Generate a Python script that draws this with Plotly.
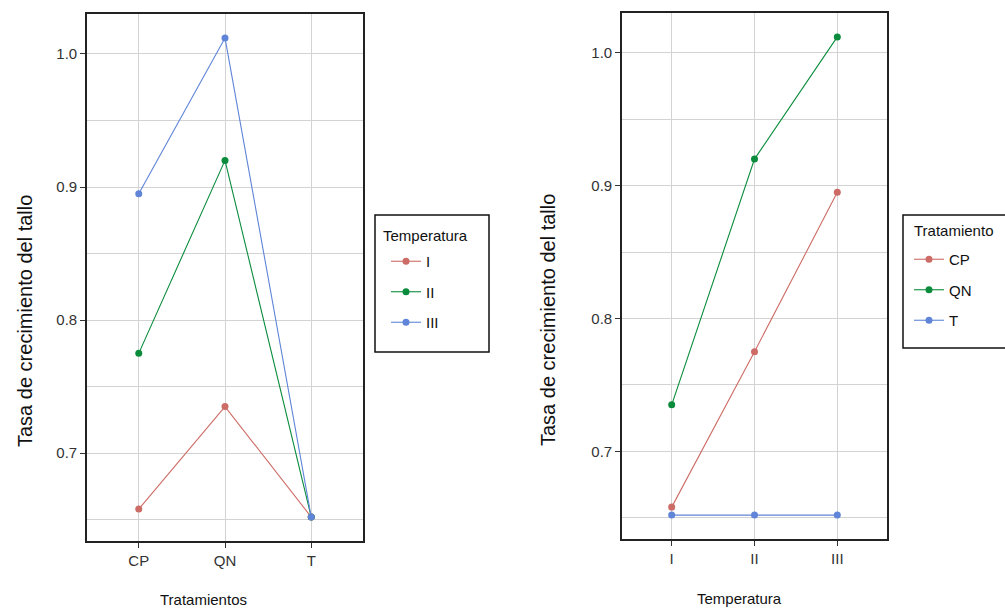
import plotly.graph_objects as go

# ---- data ----
treatments = ["CP", "QN", "T"]
temperatures = ["I", "II", "III"]
# growth rate by temperature level, across treatments CP, QN, T
rate_temp_I = [0.658, 0.735, 0.652]
rate_temp_II = [0.775, 0.920, 0.652]
rate_temp_III = [0.895, 1.012, 0.652]
y_ticks = [0.7, 0.8, 0.9, 1.0]
y_tick_labels = ["0.7", "0.8", "0.9", "1.0"]

rates_by_temp = [rate_temp_I, rate_temp_II, rate_temp_III]
colors = ["#cd6c66", "#0b8c3c", "#6085d8"]

# the page body margin is removed by post_script, so the figure sits at (0, 0)
OFF = 0
W, H = 1005 - OFF, 609 - OFF
FONT = "Liberation Sans, Arial, sans-serif"


def fx(X):
    return (X - OFF) / W


def fy(Y):
    return 1 - (Y - OFF) / H


fig = go.Figure()

# left panel: x = treatment, colour = temperature
for i, t in enumerate(temperatures):
    fig.add_trace(go.Scatter(
        x=treatments, y=rates_by_temp[i], mode="lines+markers", name=t,
        line=dict(color=colors[i], width=1.1), marker=dict(color=colors[i], size=7),
        xaxis="x", yaxis="y", legend="legend", legendgroup="a" + t,
    ))

# right panel: x = temperature, colour = treatment
for j, tr in enumerate(treatments):
    fig.add_trace(go.Scatter(
        x=temperatures, y=[rates_by_temp[i][j] for i in range(len(temperatures))],
        mode="lines+markers", name=tr,
        line=dict(color=colors[j], width=1.1), marker=dict(color=colors[j], size=7),
        xaxis="x2", yaxis="y2", legend="legend2", legendgroup="b" + tr,
    ))

yrange = [0.634, 1.030]
grid = "#d3d3d3"
tick_font = dict(family=FONT, size=15, color="#333333")
common_y = dict(
    range=yrange, tickvals=y_ticks, ticktext=y_tick_labels,
    showgrid=True, gridcolor=grid, gridwidth=1.2,
    minor=dict(tickvals=[0.65, 0.75, 0.85, 0.95], showgrid=True, gridcolor=grid, gridwidth=1.2),
    showline=True, mirror=True, linecolor="#222222", linewidth=1.6,
    ticks="outside", ticklen=5, tickcolor="#333333", tickwidth=1.2,
    tickfont=tick_font, zeroline=False,
)
common_x = dict(
    type="category", range=[-0.6, 2.6],
    showgrid=True, gridcolor=grid, gridwidth=1.2,
    showline=True, mirror=True, linecolor="#222222", linewidth=1.6,
    ticks="outside", ticklen=5, tickcolor="#333333", tickwidth=1.2,
    tickfont=tick_font, zeroline=False,
)

legend_common = dict(
    xanchor="left", yanchor="top", borderwidth=0, bgcolor="rgba(0,0,0,0)",
    font=dict(family=FONT, size=15, color="#111111"),
    tracegroupgap=8, itemwidth=30,
)

fig.update_layout(
    width=W, height=H,
    margin=dict(l=0, r=0, t=0, b=0),
    paper_bgcolor="white", plot_bgcolor="white",
    font=dict(family=FONT, color="#111111"),
    xaxis=dict(domain=[fx(87), fx(363)], anchor="y", **common_x),
    yaxis=dict(domain=[fy(541), fy(14)], anchor="x", **common_y),
    xaxis2=dict(domain=[fx(622), fx(887)], anchor="y2", **common_x),
    yaxis2=dict(domain=[fy(539), fy(13)], anchor="x2", **common_y),
    legend=dict(x=fx(386), y=fy(245), **legend_common),
    legend2=dict(x=fx(909), y=fy(243), **legend_common),
    showlegend=True,
)

# legend frames (right one runs off the page edge, open on the right)
fig.add_shape(type="rect", xref="paper", yref="paper",
              x0=fx(375), x1=fx(489), y0=fy(352), y1=fy(215),
              line=dict(color="#111111", width=1.5), fillcolor="rgba(0,0,0,0)")
rx0, rx1, ry0, ry1 = fx(903), fx(1040), fy(348), fy(215)
fig.add_shape(type="path", xref="paper", yref="paper",
              path=f"M {rx1} {ry1} L {rx0} {ry1} L {rx0} {ry0} L {rx1} {ry0}",
              line=dict(color="#111111", width=1.5))

title_font = dict(family=FONT, size=20, color="#111111")
xt_font = dict(family=FONT, size=15, color="#111111")
annotations = [
    dict(text="Tasa de crecimiento del tallo", x=fx(25), y=fy(321), textangle=-90,
         font=title_font, xanchor="center", yanchor="middle"),
    dict(text="Tasa de crecimiento del tallo", x=fx(548), y=fy(320), textangle=-90,
         font=title_font, xanchor="center", yanchor="middle"),
    dict(text="Tratamientos", x=fx(203), y=fy(599), font=xt_font,
         xanchor="center", yanchor="middle"),
    dict(text="Temperatura", x=fx(739), y=fy(598), font=xt_font,
         xanchor="center", yanchor="middle"),
    # legend titles
    dict(text="Temperatura", x=fx(381), y=fy(236), font=xt_font,
         xanchor="left", yanchor="middle"),
    dict(text="Tratamiento", x=fx(912), y=fy(230), font=xt_font,
         xanchor="left", yanchor="middle"),
]
for a in annotations:
    a.update(xref="paper", yref="paper", showarrow=False)
fig.update_layout(annotations=annotations)

fig.write_html(
    "out.html",
    config={"displayModeBar": False},
    post_script="document.body.style.margin='0';document.body.style.overflow='hidden';",
)
